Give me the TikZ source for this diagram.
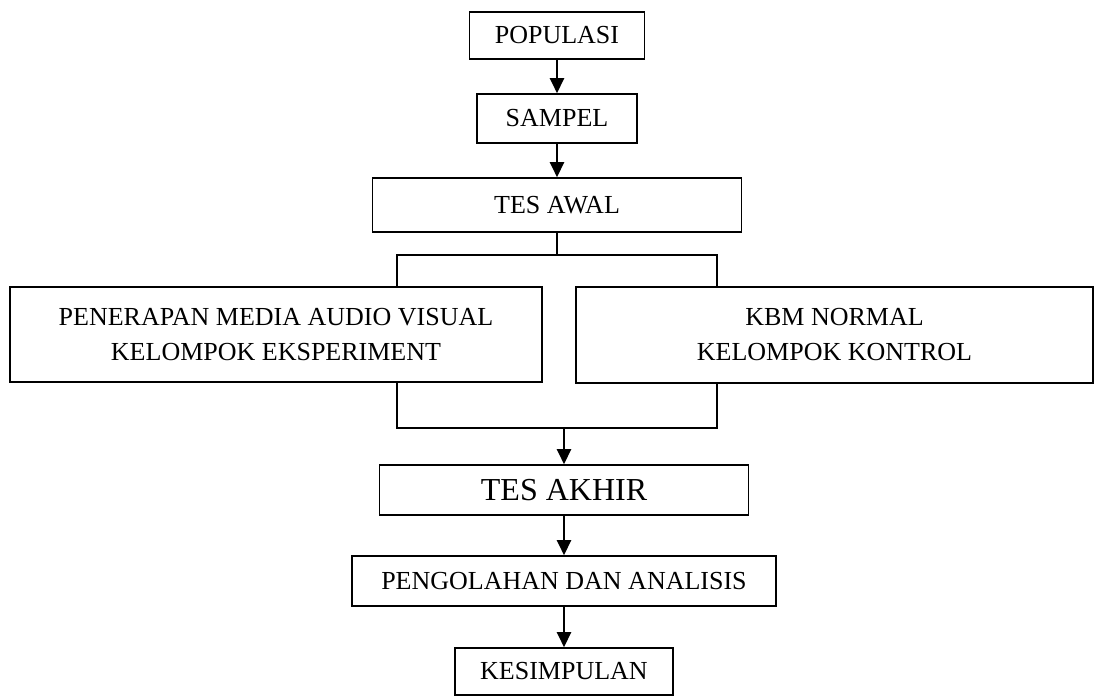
\documentclass[tikz,border=0pt]{standalone}
\usepackage{fontspec}
\setmainfont{Liberation Serif}
\usetikzlibrary{arrows.meta}

\tikzset{
    kotak/.style={draw, line width=1.6pt, inner sep=0pt, align=center,
        font=\fontsize{26}{35}\selectfont},
    panah/.style={line width=2.4pt, -{Triangle[length=15pt, width=14pt]}},
    garis/.style={line width=1.2pt}
}

\begin{document}
\begin{tikzpicture}[x=1pt, y=-1pt]
    \useasboundingbox (0,0) rectangle (1094,697);

    % alur atas
    \node[kotak, minimum width=175pt, minimum height=47pt] (pop) at (557,35.5) {POPULASI};
    \node[kotak, minimum width=160pt, minimum height=49pt] (sampel) at (557,118.5) {SAMPEL};
    \node[kotak, minimum width=369pt, minimum height=54pt] (awal) at (557,205) {TES AWAL};

    % dua kelompok
    \node[kotak, minimum width=532pt, minimum height=95pt] (eksp) at (276,334.5)
        {PENERAPAN MEDIA AUDIO VISUAL\\KELOMPOK EKSPERIMENT};
    \node[kotak, minimum width=517pt, minimum height=96pt] (kontrol) at (834.5,335)
        {KBM NORMAL\\KELOMPOK KONTROL};

    % alur bawah
    \node[kotak, minimum width=369pt, minimum height=50pt, font=\fontsize{32}{38}\selectfont]
        (akhir) at (564,490) {TES AKHIR};
    \node[kotak, minimum width=424pt, minimum height=50pt] (olah) at (564,581) {PENGOLAHAN DAN ANALISIS};
    \node[kotak, minimum width=218pt, minimum height=47pt] (simpul) at (564,671.5) {KESIMPULAN};

    \coordinate (jl) at (397,255);
    \coordinate (jr) at (717,255);
    \coordinate (kl) at (397,428);
    \coordinate (kr) at (717,428);

    \draw[panah] (pop) -- (sampel);
    \draw[panah] (sampel) -- (awal);

    \draw[garis] (awal.south) -- (awal.south |- jl);
    \draw[garis] (jl |- eksp.north) -- (jl) -- (jr) -- (jr |- kontrol.north);
    \draw[garis] (kl |- eksp.south) -- (kl) -- (kr) -- (kr |- kontrol.south);

    \draw[panah] (akhir.north |- kl) -- (akhir.north);
    \draw[panah] (akhir) -- (olah);
    \draw[panah] (olah) -- (simpul);
\end{tikzpicture}
\end{document}
